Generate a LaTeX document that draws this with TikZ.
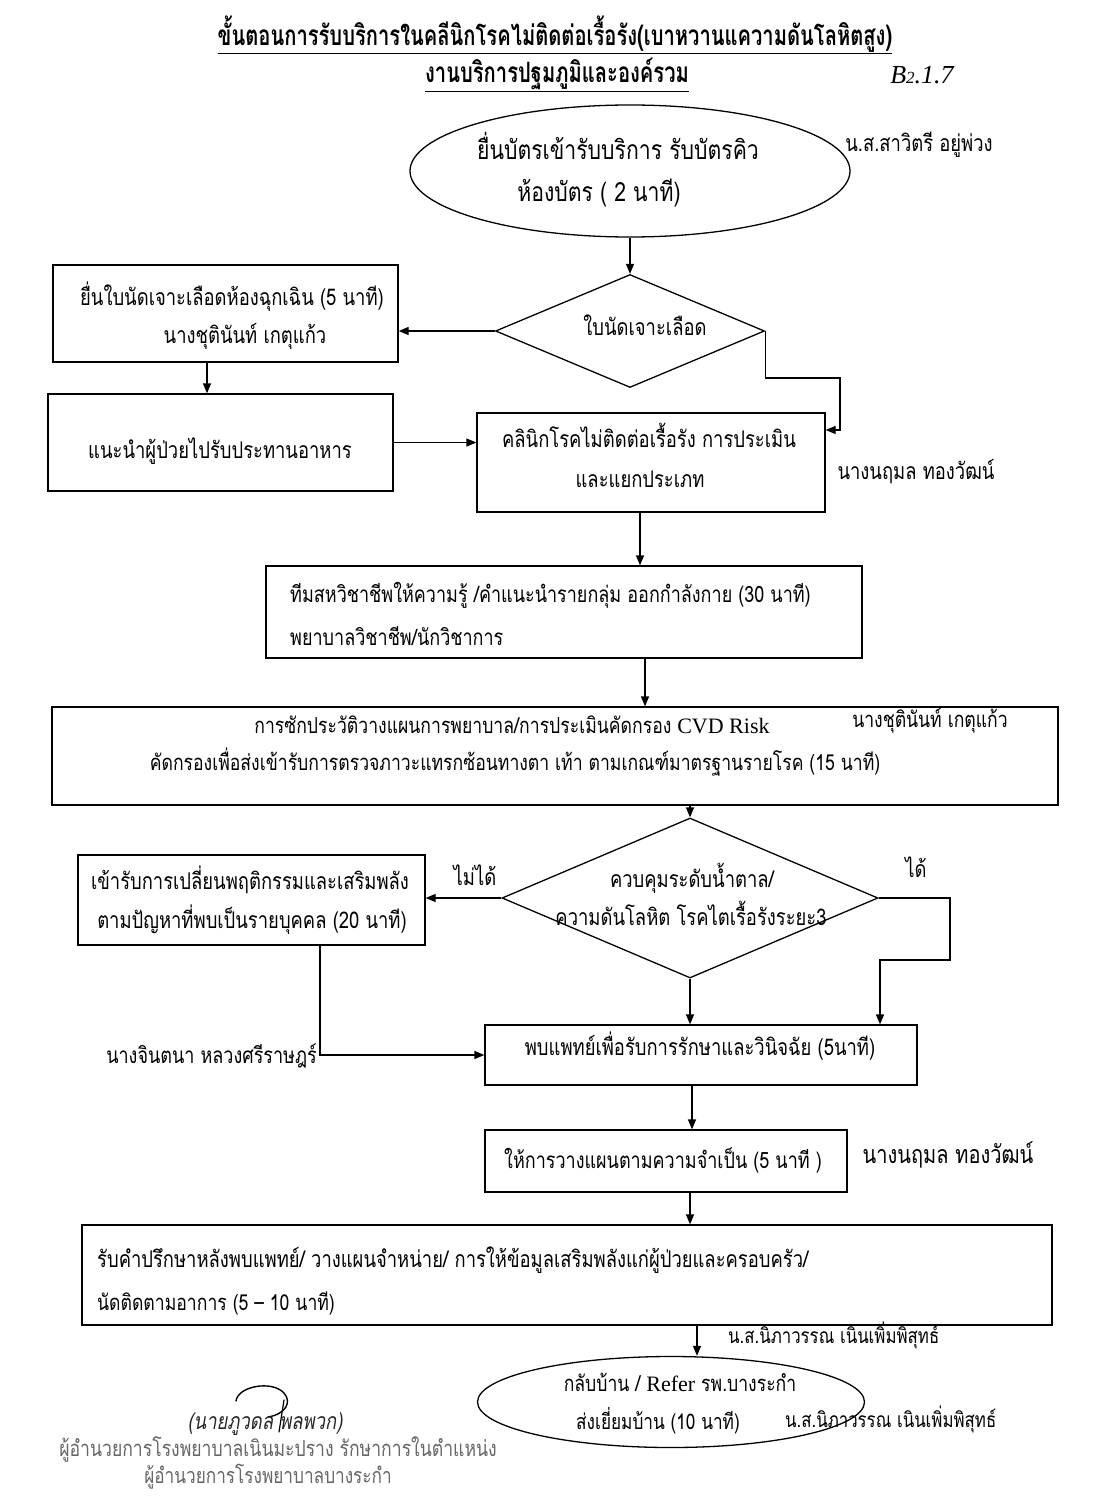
\documentclass[tikz,border=0pt]{standalone}
\usepackage{fontspec}
\setmainfont[Script=Thai]{Loma}
\newfontfamily\thaifont[Script=Thai,FakeStretch=0.8]{Loma}
\newfontfamily\thaititle[Script=Thai,FakeStretch=0.72]{Loma}
\newfontfamily\latinfont{Liberation Serif}
\usetikzlibrary{shapes.geometric,arrows.meta}
\tikzset{
  lw/.style={line width=1.3pt},
  box/.style={draw, lw, rectangle, inner sep=0pt},
  diam/.style={draw, lw, diamond, inner sep=0pt},
  ell/.style={draw, lw, ellipse, inner sep=0pt},
  txt/.style={font=\thaifont\fontsize{#1}{24}\selectfont, inner sep=0pt, text height=15pt, text depth=5pt},
  txt/.default=23,
  arr/.style={lw, -{Triangle[length=10pt,width=8pt]}},
}
\begin{document}
\begin{tikzpicture}[x=1pt,y=-1pt]
\useasboundingbox[fill=white] (0,0) rectangle (1094,1498);

% titles
\node[font=\thaititle\bfseries\fontsize{28}{30}\selectfont, inner sep=0pt] (t1) at (555,35) {\underline{ขั้นตอนการรับบริการในคลีนิกโรคไม่ติดต่อเรื้อรัง(เบาหวานแความดันโลหิตสูง)}};
\node[font=\thaititle\bfseries\fontsize{28}{30}\selectfont, inner sep=0pt] (t2) at (557,75) {\underline{งานบริการปฐมภูมิและองค์รวม}};
\node[font=\latinfont\itshape\fontsize{26}{28}\selectfont, inner sep=0pt] (code) at (922,75) {B{\fontsize{17}{17}\selectfont 2}.1.7};

% shapes
\node[ell, minimum width=440pt, minimum height=132pt] (e1) at (630,171) {};
\node[diam, minimum width=269pt, minimum height=113pt] (d1) at (630,331) {};
\node[box, minimum width=345pt, minimum height=97pt] (b1) at (225.5,313.5) {};
\node[box, minimum width=345pt, minimum height=97pt] (b2) at (220.5,442.5) {};
\node[box, minimum width=348pt, minimum height=99pt] (b3) at (651,462.5) {};
\node[box, minimum width=596pt, minimum height=92pt] (b4) at (564,612) {};
\node[box, minimum width=1006pt, minimum height=98pt] (b5) at (555,756) {};
\node[diam, minimum width=376pt, minimum height=160pt] (d2) at (690,898) {};
\node[box, minimum width=347pt, minimum height=90pt] (b6) at (251.5,900) {};
\node[box, minimum width=432pt, minimum height=60pt] (b7) at (701,1055) {};
\node[box, minimum width=362pt, minimum height=62pt] (b8) at (666,1161) {};
\node[box, minimum width=970pt, minimum height=100pt] (b9) at (567,1275) {};
\node[ell, minimum width=387pt, minimum height=91pt] (e2) at (671,1402) {};

% texts inside shapes
\node[txt=26.5] (e1a) at (618,155) {ยื่นบัตรเข้ารับบริการ รับบัตรคิว};
\node[txt=26.5] (e1b) at (599,196) {ห้องบัตร ( 2 นาที)};
\node[txt] (d1a) at (645,330) {ใบนัดเจาะเลือด};
\node[txt] (b1a) at (232,300) {ยื่นใบนัดเจาะเลือดห้องฉุกเฉิน (5 นาที)};
\node[txt] (b1b) at (245,338) {นางชุตินันท์ เกตุแก้ว};
\node[txt] (b2a) at (220,453) {แนะนำผู้ป่วยไปรับประทานอาหาร};
\node[txt] (b3a) at (649,442) {คลินิกโรคไม่ติดต่อเรื้อรัง การประเมิน};
\node[txt] (b3b) at (640,482) {และแยกประเภท};
\node[txt=22.5, anchor=west] (b4a) at (290,597) {ทีมสหวิชาชีพให้ความรู้ /คำแนะนำรายกลุ่ม ออกกำลังกาย (30 นาที)};
\node[txt=22.5, anchor=west] (b4b) at (290,640) {พยาบาลวิชาชีพ/นักวิชาการ};
\node[txt=22] (b5a) at (512,728) {การซักประวัติวางแผนการพยาบาล/การประเมินคัดกรอง {\latinfont CVD Risk}};
\node[txt=22] (b5c) at (930,722) {นางชุตินันท์ เกตุแก้ว};
\node[txt=22] (b5b) at (515,765) {คัดกรองเพื่อส่งเข้ารับการตรวจภาวะแทรกซ้อนทางตา เท้า ตามเกณฑ์มาตรฐานรายโรค (15 นาที)};
\node[txt] (d2a) at (692,882) {ควบคุมระดับน้ำตาล/};
\node[txt] (d2b) at (691,920) {ความดันโลหิต โรคไตเรื้อรังระยะ3};
\node[txt] (b6a) at (250,884) {เข้ารับการเปลี่ยนพฤติกรรมและเสริมพลัง};
\node[txt] (b6b) at (252,923) {ตามปัญหาที่พบเป็นรายบุคคล (20 นาที)};
\node[txt] (b7a) at (700,1050) {พบแพทย์เพื่อรับการรักษาและวินิจฉัย (5นาที)};
\node[txt=22.5] (b8a) at (663,1163) {ให้การวางแผนตามความจำเป็น (5 นาที )};
\node[txt, anchor=west] (b9a) at (97,1262) {รับคำปรึกษาหลังพบแพทย์/ วางแผนจำหน่าย/ การให้ข้อมูลเสริมพลังแก่ผู้ป่วยและครอบครัว/};
\node[txt=22, anchor=west] (b9b) at (97,1305) {นัดติดตามอาการ (5 – 10 นาที)};
\node[txt=22] (e2a) at (680,1386) {กลับบ้าน / {\latinfont Refer} รพ.บางระกำ};
\node[txt=21.5] (e2b) at (658,1424) {ส่งเยี่ยมบ้าน (10 นาที)};

% labels outside
\node[txt] (l1) at (919,147) {น.ส.สาวิตรี อยู่พ่วง};
\node[txt] (l2) at (916,474) {นางนฤมล ทองวัฒน์};
\node[txt=22.5, anchor=east] (l3) at (317,1058) {นางจินตนา หลวงศรีราษฎร์};
\node[txt=25] (l4) at (948,1158) {นางนฤมล ทองวัฒน์};
\node[txt=21, anchor=west] (l5) at (728,1338) {น.ส.นิภาวรรณ เนินเพิ่มพิสุทธ์};
\node[txt=21, anchor=west] (l6) at (785,1422) {น.ส.นิภาวรรณ เนินเพิ่มพิสุทธ์};
\node[txt] (no) at (475,880) {ไม่ได้};
\node[txt] (yes) at (916,872) {ได้};

% connectors
\draw[arr] (e1.south) -- (d1.north);
\draw[arr] (d1.west) -- (d1.west -| b1.east);
\coordinate (c1) at (840,378);
\coordinate (c2y) at (0,430);
\draw[arr] (d1.east) |- (c1) |- (b3.east |- c2y);
\draw[arr] ([xshift=-18.5pt]b1.south) -- ([xshift=-18.5pt]b1.south |- b2.north);
\draw[arr] (b2.east) -- (b2.east -| b3.west);
\draw[arr] ([xshift=-11pt]b3.south) -- ([xshift=-11pt]b3.south |- b4.north);
\draw[arr] ([xshift=81pt]b4.south) -- ([xshift=81pt]b4.south |- b5.north);
\draw[arr] (d2.north |- b5.south) -- (d2.north);
\draw[arr] (d2.west) -- (d2.west -| b6.east);
\coordinate (y1) at (950,960);
\coordinate (y2) at (880,960);
\draw[arr] (d2.east) -| (y1) -- (y2) -- (y2 |- b7.north);
\draw[arr] (d2.south) -- (d2.south |- b7.north);
\draw[arr] ([xshift=68.5pt]b6.south) |- (b7.west);
\draw[arr] ([xshift=-9pt]b7.south) -- ([xshift=-9pt]b7.south |- b8.north);
\draw[arr] ([xshift=24pt]b8.south) -- ([xshift=24pt]b8.south |- b9.north);
\draw[arr] ([xshift=130pt]b9.south) -- ([xshift=130pt]b9.south |- e2.north);

% signature
\draw[line width=1.4pt, line cap=round] (236,1401) .. controls (238,1386) and (272,1380) .. (284,1393)
  .. controls (292,1402) and (286,1414) .. (268,1417);
\draw[line width=1.2pt, line cap=round] (284,1400) -- (279,1432);
\node[txt=23, font=\thaifont\itshape\fontsize{23}{24}\selectfont, text=black!85] (s1) at (265,1424) {(นายภูวดล พลพวก)};
\node[txt=22, text=black!60] (s2) at (278,1451) {ผู้อำนวยการโรงพยาบาลเนินมะปราง รักษาการในตำแหน่ง};
\node[txt=21.5, text=black!60] (s3) at (268,1478) {ผู้อำนวยการโรงพยาบาลบางระกำ};
\end{tikzpicture}
\end{document}
